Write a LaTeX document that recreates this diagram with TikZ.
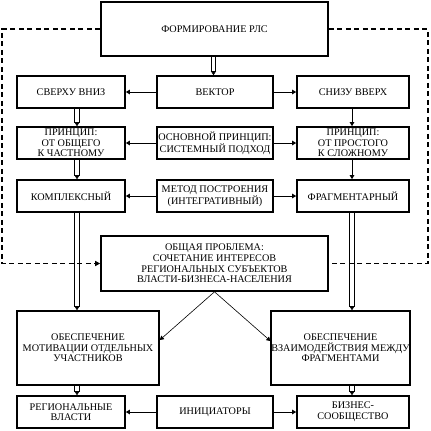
\documentclass[tikz,border=0pt]{standalone}
\usepackage{fontspec}
\setmainfont{Liberation Serif}
\usetikzlibrary{arrows.meta,calc}
\newcommand\mybx[6]{\node[bx, minimum width={#4-#2}, minimum height={#5-#3}] (#1) at ({(#2+#4)/2},{(#3+#5)/2}) {#6};}
\newcommand\mydbl[2]{\draw[dln] ($(#1)+(-2.2,0)$) -- ($(#2)+(-2.2,-3)$);\draw[dln] ($(#1)+(2.2,0)$) -- ($(#2)+(2.2,-3)$);\draw[tip] ($(#2)+(0,-4)$) -- (#2);}
\begin{document}
\begin{tikzpicture}[x=1pt,y=-1pt,
 bx/.style={draw, line width=1.6pt, align=center, inner sep=0pt, font=\fontsize{10.2}{10.6}\selectfont},
 con/.style={line width=0.8pt, -{Triangle[length=4pt,width=4.5pt]}},
 tip/.style={line width=0.6pt, -{Triangle[length=4pt,width=5pt]}},
 dln/.style={line width=0.9pt},
 dsh/.style={line width=1.3pt, dash pattern=on 5pt off 3.5pt}]
\useasboundingbox (0,0) rectangle (431,431);
\mybx{top}{101}{2}{328}{56}{ФОРМИРОВАНИЕ РЛС}
\mybx{sv}{17}{76}{125}{108}{СВЕРХУ ВНИЗ}
\mybx{vec}{157}{76}{273}{108}{ВЕКТОР}
\mybx{sn}{297}{76}{409}{108}{СНИЗУ ВВЕРХ}
\mybx{pa}{17}{127}{125}{159}{ПРИНЦИП:\\ОТ ОБЩЕГО\\К ЧАСТНОМУ}
\mybx{pb}{157}{127}{273}{159}{ОСНОВНОЙ ПРИНЦИП:\\СИСТЕМНЫЙ ПОДХОД}
\mybx{pc}{297}{127}{409}{159}{ПРИНЦИП:\\ОТ ПРОСТОГО\\К СЛОЖНОМУ}
\mybx{ko}{17}{180}{125}{212}{КОМПЛЕКСНЫЙ}
\mybx{me}{157}{180}{273}{212}{МЕТОД ПОСТРОЕНИЯ\\(ИНТЕГРАТИВНЫЙ)}
\mybx{fr}{297}{180}{409}{212}{ФРАГМЕНТАРНЫЙ}
\mybx{op}{101}{236}{328}{291}{ОБЩАЯ ПРОБЛЕМА:\\СОЧЕТАНИЕ ИНТЕРЕСОВ\\РЕГИОНАЛЬНЫХ СУБЪЕКТОВ\\ВЛАСТИ-БИЗНЕСА-НАСЕЛЕНИЯ}
\mybx{oa}{17}{311}{159}{385}{ОБЕСПЕЧЕНИЕ\\МОТИВАЦИИ ОТДЕЛЬНЫХ\\УЧАСТНИКОВ}
\mybx{ob}{272}{311}{409}{385}{ОБЕСПЕЧЕНИЕ\\ВЗАИМОДЕЙСТВИЯ МЕЖДУ\\ФРАГМЕНТАМИ}
\mybx{rv}{17}{396}{125}{428}{РЕГИОНАЛЬНЫЕ\\ВЛАСТИ}
\mybx{in}{157}{396}{273}{428}{ИНИЦИАТОРЫ}
\mybx{bs}{297}{396}{409}{428}{БИЗНЕС-\\СООБЩЕСТВО}
\coordinate (cl) at (77,0);
\coordinate (cr) at (352,0);
\coordinate (cm) at (213.5,0);
\coordinate (ml) at (2,150);
\coordinate (mr) at (428,150);
% dashed feedback
\draw[dsh,-{Triangle[length=5pt,width=5pt]}] (top.west) -| (ml) |- (op.west);
\draw[dsh] (top.east) -| (mr) |- (op.east);
% top to vector
\mydbl{top.south -| cm}{vec.north -| cm}
% horizontal arrows
\draw[con] (vec.west) -- (sv.east);
\draw[con] (vec.east) -- (sn.west);
\draw[con] (pb.west) -- (pa.east);
\draw[con] (pb.east) -- (pc.west);
\draw[con] (me.west) -- (ko.east);
\draw[con] (me.east) -- (fr.west);
\draw[con] (in.west) -- (rv.east);
\draw[con] (in.east) -- (bs.west);
% left column
\mydbl{sv.south -| cl}{pa.north -| cl}
\mydbl{pa.south -| cl}{ko.north -| cl}
\mydbl{ko.south -| cl}{oa.north -| cl}
\mydbl{oa.south -| cl}{rv.north -| cl}
% right column
\draw[con] (sn.south -| cr) -- (pc.north -| cr);
\draw[con] (pc.south -| cr) -- (fr.north -| cr);
\mydbl{fr.south -| cr}{ob.north -| cr}
\mydbl{ob.south -| cr}{bs.north -| cr}
% diagonals
\draw[con,line width=0.6pt] (op.south) -- ([yshift=8pt]oa.east);
\draw[con,line width=0.6pt] (op.south) -- ([yshift=7pt]ob.west);
\end{tikzpicture}
\end{document}
